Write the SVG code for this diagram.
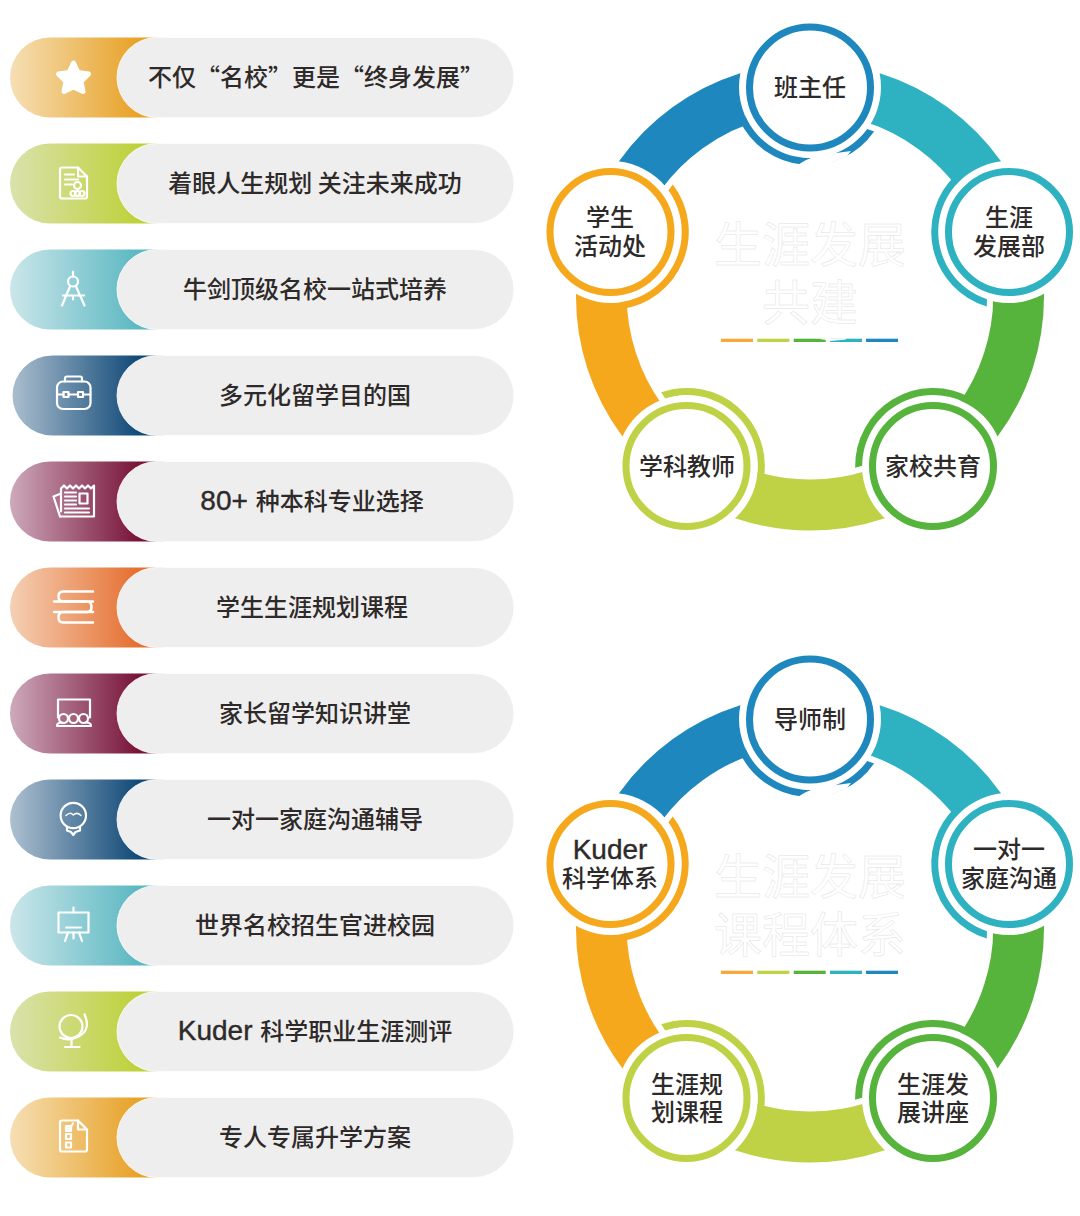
<svg xmlns="http://www.w3.org/2000/svg" xmlns:xlink="http://www.w3.org/1999/xlink" width="1080" height="1216" viewBox="0 0 1080 1216">
<style>
text{font-family:"Noto Sans CJK SC","Noto Sans",sans-serif;fill:#2e2a2a;font-weight:500}
.l{font-size:24px;text-anchor:middle}
.lat{font-family:"Liberation Sans",Arial,sans-serif;font-size:28px;stroke:#2e2a2a;stroke-width:.4}
.pill{fill:#eee;stroke:#fff;stroke-width:.8}
.ic{fill:none;stroke:#fff;stroke-width:2.2;stroke-linecap:round;stroke-linejoin:round}
.icf{fill:#fff;stroke:#fff;stroke-width:5;stroke-linejoin:round}
.seg{fill:none;stroke-width:51}
.title{font-size:48px;text-anchor:middle;fill:#fff;stroke:#e2e2e2;stroke-width:.5;font-weight:400}
.bl{stroke:#1e87be;fill:#1e87be}.te{stroke:#2eb1c1;fill:#2eb1c1}.gr{stroke:#56b33b;fill:#56b33b}.yg{stroke:#bfd144;fill:#bfd144}.or{stroke:#f5a81c;fill:#f5a81c}
.ring{fill:#fff;stroke-width:7}
</style>
<defs>
<linearGradient id="gO" gradientUnits="userSpaceOnUse" x1="10" x2="138" y1="0" y2="0"><stop offset="0" stop-color="#f5dfb5"/><stop offset="1" stop-color="#e8a228"/></linearGradient>
<linearGradient id="gY" gradientUnits="userSpaceOnUse" x1="10" x2="138" y1="0" y2="0"><stop offset="0" stop-color="#dae2ad"/><stop offset="1" stop-color="#bed13a"/></linearGradient>
<linearGradient id="gT" gradientUnits="userSpaceOnUse" x1="10" x2="138" y1="0" y2="0"><stop offset="0" stop-color="#cbe6ea"/><stop offset="1" stop-color="#5cb8c2"/></linearGradient>
<linearGradient id="gN" gradientUnits="userSpaceOnUse" x1="10" x2="138" y1="0" y2="0"><stop offset="0" stop-color="#aec0d0"/><stop offset="1" stop-color="#114a78"/></linearGradient>
<linearGradient id="gM" gradientUnits="userSpaceOnUse" x1="10" x2="138" y1="0" y2="0"><stop offset="0" stop-color="#cda9bc"/><stop offset="1" stop-color="#781438"/></linearGradient>
<linearGradient id="gR" gradientUnits="userSpaceOnUse" x1="10" x2="138" y1="0" y2="0"><stop offset="0" stop-color="#f5d0b5"/><stop offset="1" stop-color="#e56f30"/></linearGradient>
<path id="cres" d="M867.2 129A71 71 0 0 1 745.9 117.6L739.4 120.1A78 78 0 0 0 874.1 131.5Z"/>
<g id="wheelBase">
<path class="seg bl" style="fill:none" d="M611.7 232.1A208.5 208.5 0 0 1 810 88"/>
<path class="seg te" style="fill:none" d="M810 88A208.5 208.5 0 0 1 1008.3 232.1"/>
<path class="seg gr" style="fill:none" d="M1008.3 232.1A208.5 208.5 0 0 1 932.6 465.2"/>
<path class="seg yg" style="fill:none" d="M932.6 465.2A208.5 208.5 0 0 1 687.4 465.2"/>
<path class="seg or" style="fill:none" d="M687.4 465.2A208.5 208.5 0 0 1 611.7 232.1"/>
<g fill="#fff">
<circle cx="810" cy="87" r="71"/><circle cx="1009" cy="232" r="71"/><circle cx="933" cy="466" r="71"/><circle cx="687" cy="466" r="71"/><circle cx="611" cy="232" r="71"/>
</g>
<use xlink:href="#cres" href="#cres" fill="#1e87be"/>
<use xlink:href="#cres" href="#cres" fill="#2eb1c1" transform="rotate(72 810 296.5)"/>
<use xlink:href="#cres" href="#cres" fill="#56b33b" transform="rotate(144 810 296.5)"/>
<use xlink:href="#cres" href="#cres" fill="#bfd144" transform="rotate(216 810 296.5)"/>
<use xlink:href="#cres" href="#cres" fill="#f5a81c" transform="rotate(288 810 296.5)"/>
<path fill="#fff" d="M798 165Q806 159 818 155.5L851 151L847 156Q825 168 798 166Z"/>
</g>
</defs>

<g id="list" transform="translate(0 -0.5)">
<g id="row1"><path fill="url(#gO)" d="M50 38H165V118H50A40 40 0 0 1 50 38Z"/><rect class="pill" x="117" y="38" width="397" height="80" rx="40"/>
<polygon class="icf" points="73.5,63.5 78,73 88.5,74.5 81,82 83,92 73.5,87.5 64,92 66,82 58.5,74.5 69,73"/>
<text class="l" x="316" y="86">不仅“名校”更是“终身发展”</text></g>

<g id="row2"><path fill="url(#gY)" d="M50 144H165V224H50A40 40 0 0 1 50 144Z"/><rect class="pill" x="117" y="144" width="397" height="80" rx="40"/>
<g class="ic"><path d="M78 168H62Q60 168 60 170V197Q60 199 62 199H85Q87 199 87 197V177Z"/><path d="M78 168V177H87"/><path d="M65 175H74M65 180H78M65 185H72"/><circle cx="77.5" cy="186" r="3.5"/><circle cx="73" cy="194" r="2.5"/><circle cx="77.5" cy="194" r="2.5"/><circle cx="82" cy="194" r="2.5"/></g>
<text class="l" x="315" y="192">着眼人生规划 关注未来成功</text></g>

<g id="row3"><path fill="url(#gT)" d="M50 250H165V330H50A40 40 0 0 1 50 250Z"/><rect class="pill" x="117" y="250" width="397" height="80" rx="40"/>
<g class="ic"><circle cx="73" cy="282" r="5"/><path d="M73 272V277M70 287L62 306M76 287L84.5 306M63 296H84M73 296V300"/></g>
<text class="l" x="315" y="298">牛剑顶级名校一站式培养</text></g>

<g id="row4"><path fill="url(#gN)" d="M52.5 356H165V436H52.5A40 40 0 0 1 52.5 356Z"/><rect class="pill" x="117" y="356" width="397" height="80" rx="40"/>
<g class="ic"><rect x="57" y="382" width="33.5" height="27.5" rx="6"/><path d="M65 382V379Q65 377 67 377H80Q82 377 82 379V382M57 395H63.5M68.5 395H78M83 395H90.500"/><rect x="63.5" y="392.5" width="5" height="5"/><rect x="78" y="392.5" width="5" height="5"/></g>
<text class="l" x="315" y="404">多元化留学目的国</text></g>

<g id="row5"><path fill="url(#gM)" d="M50 462H165V542H50A40 40 0 0 1 50 462Z"/><rect class="pill" x="117" y="462" width="397" height="80" rx="40"/>
<g class="ic"><path d="M60 517H94V486L91 489L88 486L85 489L82 486L79 489L76 486L73 489L70 486L67 489L64 486L61 489V512"/><path d="M61 494L53.5 497L60 517"/><path d="M65 493H76M65 497H76M65 501H76M65 505H76M65 509H89M65 513H89"/><rect x="79.5" y="494" width="8" height="10"/></g>
<text class="l" x="312" y="510"><tspan class="lat">80+ </tspan>种本科专业选择</text></g>

<g id="row6"><path fill="url(#gR)" d="M50 568H165V648H50A40 40 0 0 1 50 568Z"/><rect class="pill" x="117" y="568" width="397" height="80" rx="40"/>
<g class="ic" style="stroke-width:2.5"><path d="M93 592H63Q58.5 592 58.5 597Q58.5 602 63 602H93"/><path d="M54 602H87Q91.5 602 91.5 607.5Q91.5 612.5 87 612.5H54"/><path d="M93 612.5H63Q58.5 612.5 58.5 618Q58.5 623 63 623H93"/></g>
<text class="l" x="312" y="616">学生生涯规划课程</text></g>

<g id="row7"><path fill="url(#gM)" d="M50 674H165V754H50A40 40 0 0 1 50 674Z"/><rect class="pill" x="117" y="674" width="397" height="80" rx="40"/>
<g class="ic"><path d="M58 718V700H90V718"/><circle cx="63.5" cy="719" r="4.5"/><circle cx="73.5" cy="719" r="4.5"/><circle cx="83.5" cy="719" r="4.5"/><path d="M57 726.5Q57 723 62 723M91 726.5Q91 723 86 723M57 726.5H91"/></g>
<text class="l" x="315" y="722">家长留学知识讲堂</text></g>

<g id="row8"><path fill="url(#gN)" d="M50 780H165V860H50A40 40 0 0 1 50 780Z"/><rect class="pill" x="117" y="780" width="397" height="80" rx="40"/>
<g class="ic"><circle cx="73.3" cy="816" r="12.7"/><path d="M67 827.5V831L71 832.5L73.3 835.500L75.5 832.5L80 831V827.5"/><path d="M66 816Q70 812 73.3 815.5Q77 812 81 816" stroke-width="1.5"/></g>
<text class="l" x="315" y="828">一对一家庭沟通辅导</text></g>

<g id="row9"><path fill="url(#gT)" d="M50 886H165V966H50A40 40 0 0 1 50 886Z"/><rect class="pill" x="117" y="886" width="397" height="80" rx="40"/>
<g class="ic"><rect x="58.5" y="913" width="30" height="20"/><path d="M73.5 908V913M66 928H81M68 933L65 941.5M79 933L82 941.5M73.5 933V939"/></g>
<text class="l" x="315" y="934">世界名校招生官进校园</text></g>

<g id="row10"><path fill="url(#gY)" d="M50 992H165V1072H50A40 40 0 0 1 50 992Z"/><rect class="pill" x="117" y="992" width="397" height="80" rx="40"/>
<g class="ic"><circle cx="71" cy="1027" r="11.5"/><path d="M84.5 1015Q90 1027 83 1034Q72 1043 60 1038"/><path d="M71.5 1040V1047M65 1047.5H79.5"/></g>
<text class="l" x="315" y="1040"><tspan class="lat">Kuder </tspan>科学职业生涯测评</text></g>

<g id="row11"><path fill="url(#gO)" d="M50 1098H165V1178H50A40 40 0 0 1 50 1098Z"/><rect class="pill" x="117" y="1098" width="397" height="80" rx="40"/>
<g class="ic"><path d="M78 1121H62Q60 1121 60 1123V1150Q60 1152 62 1152H85Q87 1152 87 1150V1130Z"/><path d="M78 1121V1130H87"/><rect x="66" y="1126.5" width="5" height="5"/><rect x="66" y="1134.5" width="5" height="5"/><rect x="66" y="1143" width="5" height="5"/><path d="M67 1128L69 1130L73 1124"/></g>
<text class="l" x="315" y="1146">专人专属升学方案</text></g>
</g>

<g id="connectors">
<use xlink:href="#wheelBase" href="#wheelBase"/>
<use xlink:href="#wheelBase" href="#wheelBase" transform="translate(0 632)"/>
</g>

<g id="title1">
<text class="title" x="810" y="262">生涯发展</text><text class="title" x="810" y="320">共建</text>
<rect x="721" y="338.7" width="32" height="3.3" fill="#f9a63a"/><rect x="757.3" y="338.7" width="32" height="3.3" fill="#bfd144"/><rect x="793.7" y="338.7" width="32" height="3.3" fill="#56b33b"/><rect x="830" y="338.7" width="32" height="3.3" fill="#2eb1c1"/><rect x="866" y="338.7" width="32" height="3.3" fill="#1e87be"/>
<path fill="#fff" d="M816 338.5Q822 339 826 340V338.5ZM830 341Q838 340 846 339.5V338.5H830Z"/>
</g>
<g id="title2">
<text class="title" x="810" y="894">生涯发展</text><text class="title" x="810" y="952">课程体系</text>
<rect x="721" y="970.7" width="32" height="3.3" fill="#f9a63a"/><rect x="757.3" y="970.7" width="32" height="3.3" fill="#bfd144"/><rect x="793.7" y="970.7" width="32" height="3.3" fill="#56b33b"/><rect x="830" y="970.7" width="32" height="3.3" fill="#2eb1c1"/><rect x="866" y="970.7" width="32" height="3.3" fill="#1e87be"/>
</g>

<g id="n-banzhuren"><circle class="ring bl" style="fill:#fff" cx="810" cy="87.5" r="60.5"/><text class="l" x="810" y="96">班主任</text></g>
<g id="n-shengya"><circle class="ring te" style="fill:#fff" cx="1009" cy="232" r="60.5"/><text class="l" x="1009" y="226">生涯</text><text class="l" x="1009" y="255">发展部</text></g>
<g id="n-jiaxiao"><circle class="ring gr" style="fill:#fff" cx="933" cy="466" r="60.5"/><text class="l" x="933" y="475">家校共育</text></g>
<g id="n-xueke"><circle class="ring yg" style="fill:#fff" cx="686.5" cy="466" r="60.5"/><text class="l" x="687" y="475">学科教师</text></g>
<g id="n-xuesheng"><circle class="ring or" style="fill:#fff" cx="610.5" cy="232" r="60.5"/><text class="l" x="610" y="226">学生</text><text class="l" x="610" y="255">活动处</text></g>

<g id="n-daoshi"><circle class="ring bl" style="fill:#fff" cx="810" cy="719.5" r="60.5"/><text class="l" x="810" y="728">导师制</text></g>
<g id="n-yidui"><circle class="ring te" style="fill:#fff" cx="1009" cy="864" r="60.5"/><text class="l" x="1009" y="858">一对一</text><text class="l" x="1009" y="887">家庭沟通</text></g>
<g id="n-jiangzuo"><circle class="ring gr" style="fill:#fff" cx="933" cy="1098" r="60.5"/><text class="l" x="933" y="1093">生涯发</text><text class="l" x="933" y="1121">展讲座</text></g>
<g id="n-kecheng"><circle class="ring yg" style="fill:#fff" cx="686.5" cy="1098" r="60.5"/><text class="l" x="687" y="1093">生涯规</text><text class="l" x="687" y="1121">划课程</text></g>
<g id="n-kuder"><circle class="ring or" style="fill:#fff" cx="610.5" cy="864" r="60.5"/><text class="l" x="610" y="859"><tspan class="lat">Kuder</tspan></text><text class="l" x="610" y="887">科学体系</text></g>
</svg>
